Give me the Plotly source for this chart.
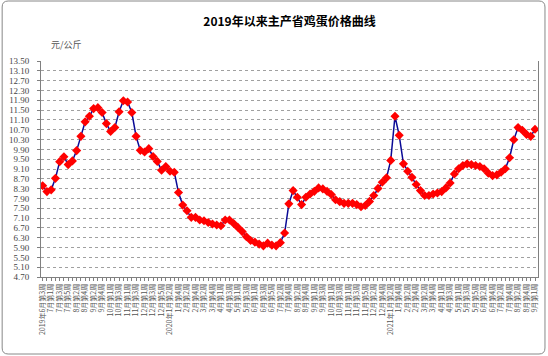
import datetime as dt
import plotly.graph_objects as go

# ---- data ----
start_week = dt.date(2019, 6, 17)
prices = [
    8.42, 8.18, 8.25, 8.72, 9.40, 9.60, 9.28, 9.43, 9.85, 10.43,
    11.02, 11.25, 11.56, 11.60, 11.40, 10.95, 10.63, 10.79, 11.43, 11.88,
    11.83, 11.40, 10.43, 9.86, 9.79, 9.93, 9.61, 9.41, 9.05, 9.20,
    9.01, 8.97, 8.14, 7.63, 7.40, 7.13, 7.13, 7.02, 6.99, 6.92,
    6.86, 6.82, 6.79, 7.02, 7.02, 6.88, 6.72, 6.55, 6.34, 6.19,
    6.12, 6.04, 5.97, 6.08, 6.00, 5.97, 6.10, 6.49, 7.68, 8.22,
    7.95, 7.65, 7.95, 8.08, 8.19, 8.33, 8.29, 8.19, 8.06, 7.85,
    7.77, 7.70, 7.70, 7.70, 7.65, 7.56, 7.61, 7.78, 8.02, 8.31,
    8.56, 8.74, 9.45, 11.25, 10.47, 9.31, 9.01, 8.76, 8.47, 8.22,
    8.02, 8.02, 8.08, 8.12, 8.18, 8.33, 8.53, 8.90, 9.11, 9.24,
    9.31, 9.28, 9.24, 9.20, 9.11, 8.93, 8.83, 8.86, 8.97, 9.11,
    9.56, 10.29, 10.79, 10.68, 10.51, 10.43, 10.72,
]
y_ticks = [round(4.70 + 0.40 * k, 2) for k in range(23)]
title_text = "2019年以来主产省鸡蛋价格曲线"
unit_text = "元/公斤"

# week categories
week_dates = [start_week + dt.timedelta(days=7 * i) for i in range(len(prices))]
x_idx = list(range(len(prices)))

tickvals = x_idx[::2]
ticktext = []
seen_years = set()
for i in tickvals:
    d = week_dates[i]
    n = (d.day - 1) // 7 + 1
    lab = f"{d.month}月第{n}周"
    if d.year not in seen_years:
        lab = f"{d.year}年" + lab
        seen_years.add(d.year)
    ticktext.append(lab)

fig = go.Figure()
fig.add_trace(go.Scatter(
    x=x_idx, y=prices, mode="lines+markers",
    line=dict(color="#0A0A96", width=1.5),
    marker=dict(symbol="diamond", size=7, color="#FF0000"),
    hoverinfo="y",
))

L, R, T, B = 40, 9, 61, 79
W, H = 548, 356
pw, ph = W - L - R, H - T - B

def px(xp):
    return (xp - L) / pw

def py(yp):
    return (H - B - yp) / ph

# outer chart border with rounded corners
x0, x1, y0, y1, r = px(1), px(546), py(1), py(354), 6
rx, ry = r / pw, r / ph
path = (f"M {x0+rx},{y0} L {x1-rx},{y0} Q {x1},{y0} {x1},{y0-ry} "
        f"L {x1},{y1+ry} Q {x1},{y1} {x1-rx},{y1} L {x0+rx},{y1} "
        f"Q {x0},{y1} {x0},{y1+ry} L {x0},{y0-ry} Q {x0},{y0} {x0+rx},{y0} Z")
fig.add_shape(type="path", path=path, xref="paper", yref="paper",
              line=dict(color="#888888", width=1), layer="below")

fig.update_layout(
    width=W, height=H,
    margin=dict(l=L, r=R, t=T, b=B),
    paper_bgcolor="white", plot_bgcolor="white",
    showlegend=False,
    font=dict(family="Liberation Serif, Noto Sans CJK SC", color="#333333"),
    title=dict(text=f"<b>{title_text}</b>", x=0.5, xref="paper",
               xanchor="center", y=1 - 22 / H, yanchor="middle",
               font=dict(size=12, color="#000000", family="Noto Sans CJK SC")),
    annotations=[dict(text=unit_text, xref="paper", yref="paper",
                      x=px(48), y=py(45), xanchor="left", yanchor="middle",
                      showarrow=False,
                      font=dict(size=9, color="#555555", family="Noto Sans CJK SC"))],
)

fig.update_xaxes(
    range=[-0.4, len(prices) - 0.3],
    tickmode="array", tickvals=tickvals, ticktext=ticktext,
    tickangle=-90, tickfont=dict(size=7, color="#555555", family="Noto Sans CJK SC"),
    showgrid=False, zeroline=False,
    showline=True, linecolor="#808080", linewidth=1,
    ticks="outside", ticklen=3, tickcolor="#808080",
    minor=dict(tickvals=x_idx, ticks="outside", ticklen=3, tickcolor="#808080"),
)
fig.update_yaxes(
    range=[4.70, 13.50],
    tickmode="array", tickvals=y_ticks, ticktext=[f"{v:.2f}" for v in y_ticks],
    tickfont=dict(size=9, color="#444444", family="Liberation Serif"),
    showgrid=True, gridcolor="#A0A0A0", gridwidth=1, griddash="dot",
    zeroline=False,
    showline=True, linecolor="#808080", linewidth=1, mirror=True,
    ticks="outside", ticklen=3, tickcolor="#808080",
    ticklabelstandoff=6,
)

fig.write_html("out.html")
